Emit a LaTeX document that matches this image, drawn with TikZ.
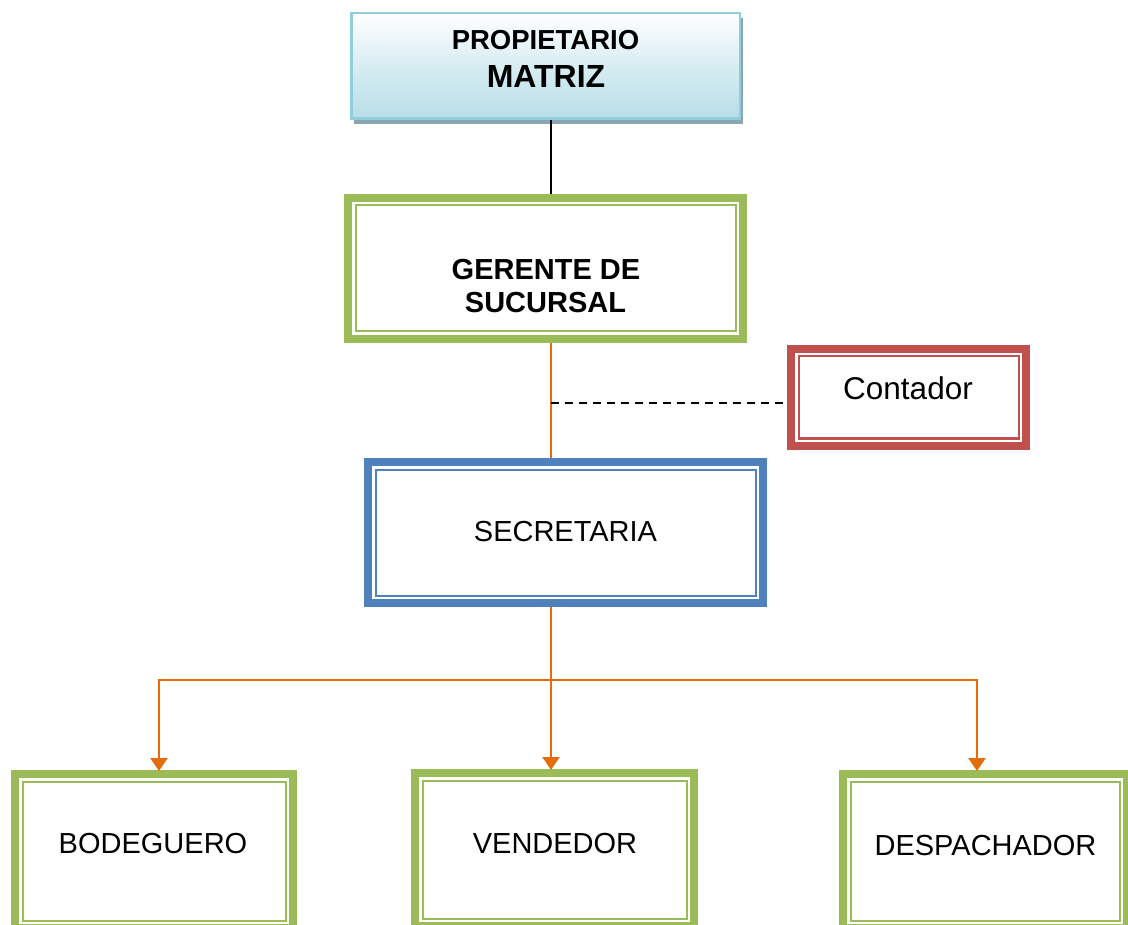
\documentclass[tikz,border=0pt]{standalone}
\usepackage{fontspec}
\setmainfont{Liberation Sans}
\usetikzlibrary{arrows.meta,shadows,calc}
\definecolor{cgreen}{HTML}{9BBB59}
\definecolor{cred}{HTML}{C0504D}
\definecolor{cblue}{HTML}{4F81BD}
\definecolor{corange}{HTML}{E46C0A}
\definecolor{topborder}{HTML}{92CDDC}
\definecolor{topfill}{HTML}{B7DEE8}
\definecolor{topshadow}{HTML}{8CA6B1}
\tikzset{
  framebox/.style={draw=#1, fill=white, line width=8pt, outer sep=4pt, inner sep=0pt},
  innerframe/.style={draw=#1, line width=2pt},
  lbl/.style={anchor=base, inner sep=0pt, font=\fontsize{29}{33}\selectfont},
  lblb/.style={anchor=base, inner sep=0pt, font=\fontsize{29}{33}\selectfont\bfseries},
  link/.style={line width=2pt},
  olink/.style={draw=corange, line width=2.2pt},
  otip/.style={-{Triangle[width=17pt,length=13pt]}},
}
\newcommand\orgbox[6]{% name, cx, cy, w, h, colour
  \node[framebox=#6, minimum width=#4pt-8pt, minimum height=#5pt-8pt] (#1) at (#2,#3) {};
  \draw[innerframe=#6] ([shift={(11.5,11.5)}]#1.north west) rectangle ([shift={(-11.5,-11.5)}]#1.south east);
}
\begin{document}
\begin{tikzpicture}[x=1pt,y=-1pt]
\useasboundingbox (0,0) rectangle (1128,925);
\fill[white] (0,0) rectangle (1128,925);
\clip (0,0) rectangle (1128,925);

% top box
\node[draw=topborder, line width=2.5pt, top color=white, bottom color=topfill, middle color=topfill!55!white,
      minimum width=388.5pt, minimum height=105.5pt, outer sep=1.25pt,
      general shadow={fill=topshadow, shadow xshift=3pt, shadow yshift=-5pt}]
      (top) at (545.5,66) {};
\node[lblb, font=\fontsize{27.5}{31}\selectfont\bfseries] (t1) at (545.5,50) {PROPIETARIO};
\node[lblb, font=\fontsize{32}{36}\selectfont\bfseries] (t2) at (546,88) {MATRIZ};

% boxes
\orgbox{ger}{545.5}{268.5}{403}{149}{cgreen}
\node[lblb] (g1) at (546,280) {GERENTE DE};
\node[lblb] (g2) at (545.5,313) {SUCURSAL};

\orgbox{cont}{908.5}{397.5}{243}{105}{cred}
\node[lbl, font=\fontsize{31.5}{36}\selectfont] (c1) at (908,400) {Contador};

\orgbox{sec}{565.5}{532.5}{403}{149}{cblue}
\node[lbl] (s1) at (565.5,541) {SECRETARIA};

\orgbox{bod}{154}{851}{286}{162}{cgreen}
\node[lbl] (b1) at (153,853) {BODEGUERO};

\orgbox{ven}{554.5}{849.5}{287}{161}{cgreen}
\node[lbl] (v1) at (555,853.5) {VENDEDOR};

\orgbox{des}{985}{851}{292}{162}{cgreen}
\node[lbl] (d1) at (985.5,855) {DESPACHADOR};

% connectors
\coordinate (spine) at (551,0);
\coordinate (dashy) at (551,403);
\coordinate (busL) at (159,680);
\coordinate (busR) at (977,680);
\coordinate (busM) at (551,680);

\draw[link] (top.south -| spine) -- (ger.north -| spine);
\draw[olink] (ger.south -| spine) -- (sec.north -| spine);
\draw[line width=2pt, dash pattern=on 8pt off 6pt] (dashy) -- (dashy -| cont.west);
\draw[olink, otip] (sec.south -| spine) -- ([yshift=-1pt]ven.north -| spine);
\draw[olink, otip] (busM) -- (busL) -- ([yshift=-1pt]bod.north -| busL);
\draw[olink, otip] (busM) -- (busR) -- ([yshift=-1pt]des.north -| busR);
\end{tikzpicture}
\end{document}
